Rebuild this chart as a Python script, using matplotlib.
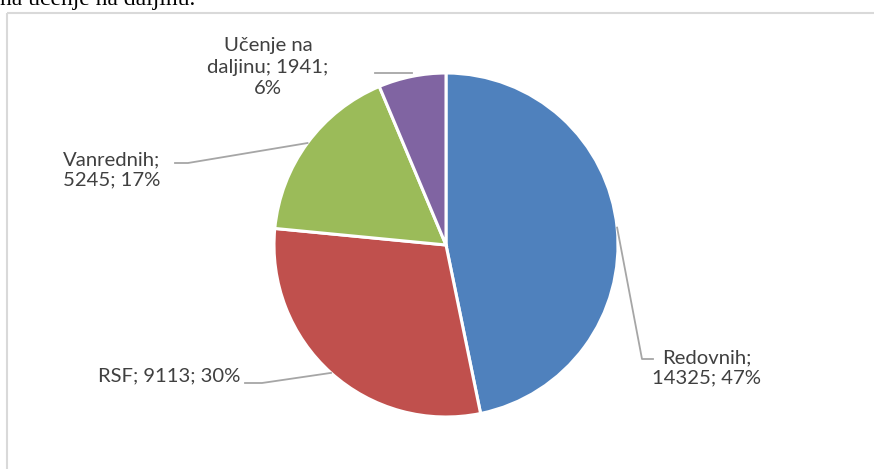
import numpy as np
import matplotlib.pyplot as plt

# Data
labels = ["Redovnih", "RSF", "Vanrednih", "Učenje na daljinu"]
values = [14325, 9113, 5245, 1941]
percents = ["47%", "30%", "17%", "6%"]
colors = ["#4F81BD", "#C0504D", "#9BBB59", "#8064A2"]

W, H = 874, 469
fig = plt.figure(figsize=(W / 100, H / 100), dpi=100)
ax = fig.add_axes([0, 0, 1, 1])

# Cut-off caption from surrounding document
fig.text(0.0, 1 - 5 / H, "na učenje na daljinu.", family="Liberation Serif",
         fontsize=17, color="black", va="baseline", ha="left")

# Pie
cx, cy, r = 446, H - 245, 172
wedges, _ = ax.pie(values, colors=colors, startangle=90, counterclock=False,
                   center=(cx, cy), radius=r, frame=True,
                   wedgeprops=dict(edgecolor="white", linewidth=2.2))
ax.set_xlim(0, W)
ax.set_ylim(0, H)
ax.set_aspect("equal")
ax.axis("off")

# Chart area border (only top and left visible)
ax.plot([6.5, W], [H - 12.5, H - 12.5], color="#D9D9D9", lw=1.5, solid_capstyle="butt")
ax.plot([6.5, 6.5], [H - 12.5, 0], color="#D9D9D9", lw=1.5, solid_capstyle="butt")


def edge_point(w):
    a = np.deg2rad((w.theta1 + w.theta2) / 2)
    return cx + r * np.cos(a), cy + r * np.sin(a)


def Y(y):
    return H - y


lc = "#A6A6A6"
tc = "#404040"
fs = 14.6
fam = ["Lato", "DejaVu Sans"]

# Redovnih
px, py = edge_point(wedges[0])
ax.plot([px, 642, 653], [py, Y(359), Y(359)], color=lc, lw=1.3)
ax.text(707, Y(368), f"{labels[0]};\n{values[0]}; {percents[0]}", ha="center", va="center",
        fontsize=fs, color=tc, family=fam, linespacing=1.2)

# RSF
px, py = edge_point(wedges[1])
ax.plot([px, 262, 245], [py, Y(383), Y(383)], color=lc, lw=1.3)
ax.text(240, Y(376), f"{labels[1]}; {values[1]}; {percents[1]}", ha="right", va="center",
        fontsize=fs, color=tc, family=fam)

# Vanrednih
px, py = edge_point(wedges[2])
ax.plot([px, 188, 175], [py, Y(163), Y(163)], color=lc, lw=1.3)
ax.text(63, Y(170), f"{labels[2]};\n{values[2]}; {percents[2]}", ha="left", va="center",
        fontsize=fs, color=tc, family=fam, linespacing=1.2)

# Učenje na daljinu
px, py = edge_point(wedges[3])
ax.plot([px, 375], [Y(73), Y(73)], color=lc, lw=1.3)
ax.text(268, Y(67), "Učenje na\ndaljinu; " + f"{values[3]};\n{percents[3]}", ha="center",
        va="center", fontsize=fs, color=tc, family=fam, linespacing=1.3)

fig.savefig("out.png", dpi=100, facecolor="white")
